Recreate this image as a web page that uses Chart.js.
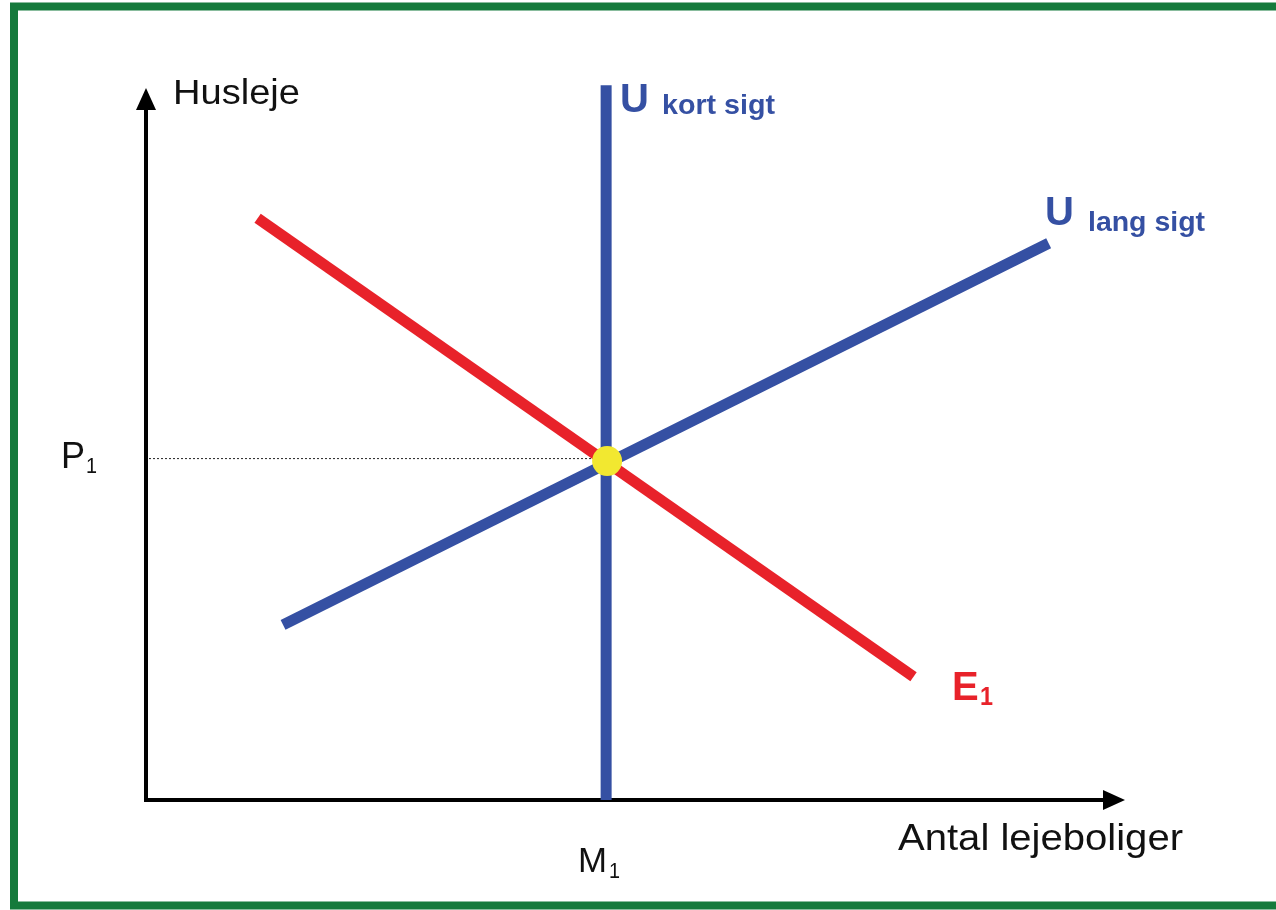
<!DOCTYPE html>
<html>
<head>
<meta charset="utf-8">
<script src="https://cdn.jsdelivr.net/npm/chart.js@4"></script>
<style>
  html, body { margin: 0; padding: 0; background: #fff; }
  #wrap { width: 1276px; height: 910px; position: relative; }
</style>
</head>
<body>
<div id="wrap"><canvas id="marketChart"></canvas></div>
<script>
// Udbud og efterspørgsel på lejeboliger
const demandX = [11.4, 78.4];        // E1
const demandY = [81.7, 17.3];
const supplyLongX = [14.0, 92.2];    // U lang sigt
const supplyLongY = [24.6, 78.2];
const supplyShortX = [47.0, 47.0];   // U kort sigt
const supplyShortY = [0, 100.4];
const equilibriumX = [47.1];
const equilibriumY = [47.6];
const axisLabels = ['Husleje', 'Antal lejeboliger'];

const toPoints = (xs, ys) => xs.map((x, i) => ({ x: x, y: ys[i] }));

// tekst strakt vandret til en given bredde
function fitText(c, text, x, y, font, width) {
    c.font = font;
    const w = c.measureText(text).width;
    c.save();
    c.translate(x, y);
    c.scale(width ? width / w : 1, 1);
    c.fillText(text, 0, 0);
    c.restore();
}

// ramme, akser, pile og tekster
const decorations = {
    id: 'decorations',
    beforeDraw(chart) {
        const c = chart.ctx;
        const xs = chart.scales.x, ys = chart.scales.y;
        const x0 = xs.getPixelForValue(0), y0 = ys.getPixelForValue(0);
        const xEnd = xs.getPixelForValue(100), yEnd = ys.getPixelForValue(100);
        c.save();
        // grøn ramme
        c.strokeStyle = '#157a3c';
        c.lineWidth = 8;
        c.beginPath();
        c.moveTo(1290, 6.5);
        c.lineTo(14, 6.5);
        c.lineTo(14, 905.5);
        c.lineTo(1290, 905.5);
        c.stroke();

        // stiplet linje til P1
        const ey = ys.getPixelForValue(equilibriumY[0]);
        const ex = xs.getPixelForValue(equilibriumX[0]);
        c.strokeStyle = '#222';
        c.lineWidth = 1;
        c.setLineDash([2, 2]);
        c.beginPath();
        c.moveTo(x0 + 3, ey - 2.5);
        c.lineTo(ex - 8, ey - 2.5);
        c.stroke();
        c.setLineDash([]);

        // akser
        c.strokeStyle = '#000';
        c.fillStyle = '#000';
        c.lineWidth = 4;
        c.beginPath();
        c.moveTo(x0, y0 + 2);
        c.lineTo(x0, yEnd + 16);
        c.moveTo(x0 - 2, y0);
        c.lineTo(xEnd - 16, y0);
        c.stroke();
        c.beginPath();
        c.moveTo(x0, yEnd);
        c.lineTo(x0 - 10, yEnd + 22);
        c.lineTo(x0 + 10, yEnd + 22);
        c.closePath();
        c.fill();
        c.beginPath();
        c.moveTo(xEnd, y0);
        c.lineTo(xEnd - 22, y0 - 10);
        c.lineTo(xEnd - 22, y0 + 10);
        c.closePath();
        c.fill();
        c.restore();
    },
    afterDraw(chart) {
        const c = chart.ctx;
        const xs = chart.scales.x, ys = chart.scales.y;
        const x0 = xs.getPixelForValue(0), y0 = ys.getPixelForValue(0);
        const ey = ys.getPixelForValue(equilibriumY[0]);
        c.save();
        c.textBaseline = 'alphabetic';
        c.textAlign = 'left';
        const font = '"Liberation Sans", Arial, sans-serif';

        c.fillStyle = '#111';
        fitText(c, axisLabels[0], x0 + 27, 104, '35px ' + font, 127);
        fitText(c, axisLabels[1], 898, y0 + 50, '36px ' + font, 285);

        // P1 og M1
        fitText(c, 'P', 61, ey + 7, '37px ' + font, 24);
        fitText(c, '1', 86, ey + 12, '22px ' + font, 11);
        fitText(c, 'M', 578, y0 + 72, '35px ' + font, 29);
        fitText(c, '1', 609, y0 + 78, '22px ' + font, 11);

        // kurvenavne
        c.fillStyle = '#3550a3';
        fitText(c, 'U', 620, 112, 'bold 40px ' + font);
        fitText(c, 'kort sigt', 662, 114, 'bold 28px ' + font, 113);
        fitText(c, 'U', 1045, 225, 'bold 40px ' + font);
        fitText(c, 'lang sigt', 1088, 231, 'bold 28px ' + font, 117);

        c.fillStyle = '#e8222a';
        fitText(c, 'E', 952, 700, 'bold 40px ' + font);
        fitText(c, '1', 980, 705, 'bold 25px ' + font, 13);
        c.restore();
    }
};

const ctx = document.getElementById('marketChart').getContext('2d');

const data = {
    datasets: [
        {
            label: 'U kort sigt',
            data: toPoints(supplyShortX, supplyShortY),
            showLine: true,
            borderColor: '#3550a3',
            borderWidth: 11,
            borderCapStyle: 'butt',
            pointRadius: 0,
            clip: false,
            order: 3
        },
        {
            label: 'U lang sigt',
            data: toPoints(supplyLongX, supplyLongY),
            showLine: true,
            borderColor: '#3550a3',
            borderWidth: 11,
            borderCapStyle: 'butt',
            pointRadius: 0,
            clip: false,
            order: 2
        },
        {
            label: 'E1',
            data: toPoints(demandX, demandY),
            showLine: true,
            borderColor: '#e8222a',
            borderWidth: 11,
            borderCapStyle: 'butt',
            pointRadius: 0,
            clip: false,
            order: 4
        },
        {
            label: 'Ligevægt',
            data: toPoints(equilibriumX, equilibriumY),
            showLine: false,
            pointRadius: 15,
            pointBackgroundColor: '#f2e830',
            pointBorderWidth: 0,
            clip: false,
            order: 0
        }
    ]
};

const config = {
    type: 'scatter',
    data: data,
    options: {
        responsive: true,
        maintainAspectRatio: false,
        animation: false,
        layout: {
            padding: { left: 146, right: 151, top: 88, bottom: 110 }
        },
        plugins: {
            legend: { display: false },
            tooltip: { enabled: false }
        },
        scales: {
            x: { type: 'linear', min: 0, max: 100, display: false },
            y: { type: 'linear', min: 0, max: 100, display: false }
        }
    },
    plugins: [decorations]
};

const marketChart = new Chart(ctx, config);
</script>
</body>
</html>
